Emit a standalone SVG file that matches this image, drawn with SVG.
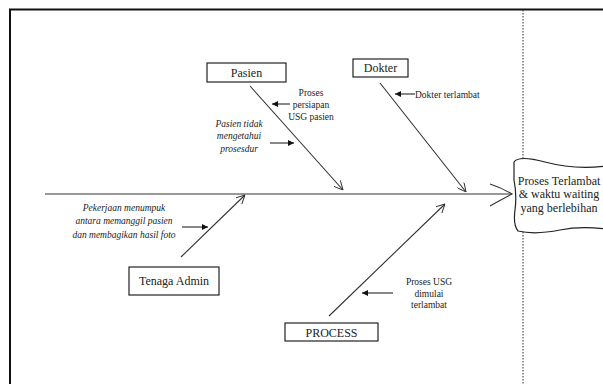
<svg xmlns="http://www.w3.org/2000/svg" width="603" height="384" viewBox="0 0 603 384">
<style>
.box{fill:#fff;stroke:#222;stroke-width:1.2}
.bone{stroke:#333;stroke-width:1.1;fill:none}
.sm{stroke:#111;stroke-width:1;fill:none}
.lbl{font-family:"Liberation Serif",serif;font-size:12px;fill:#222;text-anchor:middle}
.t{font-family:"Liberation Serif",serif;font-size:9.5px;fill:#222}
.it{font-family:"Liberation Serif",serif;font-size:9.5px;font-style:italic;fill:#222;text-anchor:middle}
</style>
<defs>
<marker id="open" viewBox="0 0 10 10" refX="10" refY="5" markerWidth="9" markerHeight="9" orient="auto" markerUnits="userSpaceOnUse">
<path d="M0,0 L10,5 L0,10" fill="none" stroke="#333" stroke-width="1.1"/>
</marker>
<marker id="fill" viewBox="0 0 10 10" refX="10" refY="5" markerWidth="7" markerHeight="6" orient="auto" markerUnits="userSpaceOnUse">
<path d="M0,0 L10,5 L0,10 Z" fill="#111"/>
</marker>
</defs>
<rect width="603" height="384" fill="#fff"/>
<g id="frame">
<path d="M10,384 L10,9.5 L603,9.5" fill="none" stroke="#111" stroke-width="2"/>
<line x1="523" y1="10" x2="523" y2="160" stroke="#333" stroke-width="1" stroke-dasharray="1.5 1.5"/>
<line x1="523" y1="232" x2="523" y2="384" stroke="#333" stroke-width="1" stroke-dasharray="1.5 1.5"/>
</g>
<g id="connectors">
<line class="bone" x1="45" y1="194" x2="512" y2="194"/>
<path class="bone" d="M490,184 Q502,188 512,194 Q502,199 490,206"/>
<line class="bone" x1="250" y1="86" x2="343" y2="190" marker-end="url(#open)"/>
<line class="bone" x1="380" y1="83" x2="466" y2="192" marker-end="url(#open)"/>
<line class="bone" x1="181" y1="257" x2="245" y2="195" marker-end="url(#open)"/>
<line class="bone" x1="329" y1="316" x2="445" y2="204" marker-end="url(#open)"/>
<line class="sm" x1="290" y1="104" x2="272" y2="104" marker-end="url(#fill)"/>
<line class="sm" x1="270" y1="143" x2="294" y2="143" marker-end="url(#fill)"/>
<line class="sm" x1="415" y1="94" x2="395" y2="94" marker-end="url(#fill)"/>
<line class="sm" x1="182" y1="227" x2="208" y2="227" marker-end="url(#fill)"/>
<line class="sm" x1="393" y1="293" x2="362" y2="293" marker-end="url(#fill)"/>
</g>
<g id="pasien">
<rect class="box" x="207" y="63" width="79" height="19"/>
<text class="lbl" x="246.5" y="76.5">Pasien</text>
</g>
<g id="dokter">
<rect class="box" x="353" y="59" width="55" height="18"/>
<text class="lbl" x="380.5" y="72">Dokter</text>
</g>
<g id="tenaga-admin">
<rect class="box" x="129" y="267" width="90" height="28"/>
<text class="lbl" x="174" y="285">Tenaga Admin</text>
</g>
<g id="process">
<rect class="box" x="285" y="323" width="93" height="18"/>
<text class="lbl" x="331.5" y="336.5">PROCESS</text>
</g>
<g id="effect">
<path d="M514,162 Q519,155 545,162 Q575,170 606,166 L606,229 Q580,226 560,230 Q535,235 518,231 Q513,225 515,210 Q517,195 514,180 Z" fill="#fff" stroke="#222" stroke-width="1.2"/>
<text class="lbl" x="559" y="185">Proses Terlambat</text>
<text class="lbl" x="559" y="198">&amp; waktu waiting</text>
<text class="lbl" x="559" y="211.5">yang berlebihan</text>
</g>
<g id="labels">
<text class="t" x="311" y="96" text-anchor="middle">Proses</text>
<text class="t" x="311" y="107.5" text-anchor="middle">persiapan</text>
<text class="t" x="311" y="119.5" text-anchor="middle">USG pasien</text>
<text class="it" x="239" y="126.5">Pasien tidak</text>
<text class="it" x="239" y="139">mengetahui</text>
<text class="it" x="239" y="151.5">prosesdur</text>
<text class="t" x="415" y="97.5">Dokter terlambat</text>
<text class="it" x="124" y="210.5">Pekerjaan menumpuk</text>
<text class="it" x="124" y="224">antara memanggil pasien</text>
<text class="it" x="124" y="237.5">dan membagikan hasil foto</text>
<text class="t" x="429" y="284.5" text-anchor="middle">Proses USG</text>
<text class="t" x="429" y="296.5" text-anchor="middle">dimulai</text>
<text class="t" x="429" y="308" text-anchor="middle">terlambat</text>
</g>
</svg>
